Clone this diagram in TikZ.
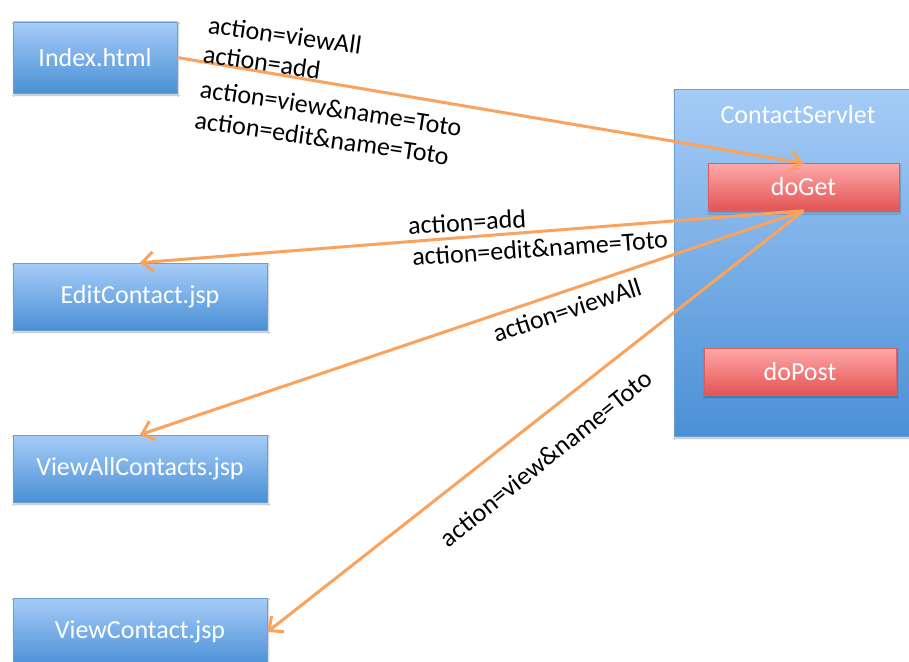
\documentclass[tikz,border=0pt]{standalone}
\usepackage{fontspec}
\setmainfont{Carlito}
\usetikzlibrary{arrows.meta,shadows.blur}
\definecolor{bluetop}{HTML}{A6CCF7}
\definecolor{bluebot}{HTML}{4A90D6}
\definecolor{blueline}{HTML}{6A9ED6}
\definecolor{redtop}{HTML}{FFA8A8}
\definecolor{redbot}{HTML}{E35454}
\definecolor{redline}{HTML}{D86060}
\definecolor{arrowc}{HTML}{F9A35E}
\tikzset{
  boxshadow/.style={blur shadow={shadow xshift=1pt,shadow yshift=-2pt,shadow blur steps=4,shadow opacity=30}},
  bluebox/.style={rectangle, top color=bluetop, bottom color=bluebot, draw=blueline, line width=0.6pt,
    text=white, font=\fontsize{26}{30}\selectfont, inner sep=0pt, boxshadow},
  redbox/.style={rectangle, top color=redtop, bottom color=redbot, draw=redline, line width=0.6pt,
    text=white, font=\fontsize{26}{30}\selectfont, inner sep=0pt, boxshadow},
  lbl/.style={font=\fontsize{26}{30}\selectfont, text=black, inner sep=0pt},
  arr/.style={draw=arrowc, line width=3pt, -{Straight Barb[length=11pt,width=20pt,line width=3pt]}}
}
\begin{document}
\begin{tikzpicture}[x=1pt,y=-1pt]
\useasboundingbox (0,0) rectangle (909,661);
\clip (0,0) rectangle (909,661);
\fill[white] (0,0) rectangle (909,661);
% servlet container
\node[bluebox, minimum width=271pt, minimum height=347pt] (serv) at (809.5,262.5) {};
\node[text=white, font=\fontsize{26}{30}\selectfont, inner sep=0pt] (servt) at (798,115) {ContactServlet};
\node[redbox, minimum width=191pt, minimum height=47pt] (doget) at (803.5,187) {doGet};
\node[redbox, minimum width=192pt, minimum height=47pt] (dopost) at (800,371.5) {doPost};
% pages
\node[bluebox, minimum width=164pt, minimum height=71pt] (idx) at (95,57.5) {Index.html};
\node[bluebox, minimum width=254pt, minimum height=67pt] (edit) at (140,296.5) {EditContact.jsp};
\node[bluebox, minimum width=254pt, minimum height=67pt] (vall) at (140,468.5) {ViewAllContacts.jsp};
\node[bluebox, minimum width=254pt, minimum height=68pt] (vc) at (140,632) {ViewContact.jsp};
% connectors
\draw[arr] (idx.east) -- (doget.north);
\draw[arr] (doget.south) -- (edit.north);
\draw[arr] (doget.south) -- (vall.north);
\draw[arr] (doget.south) -- (vc.east);
% labels
\node[lbl, rotate=-8] (l1) at (285,35) {action=viewAll};
\node[lbl, rotate=-8] (l2) at (262,62) {action=add};
\node[lbl, rotate=-8.5] (l3) at (331,108) {action=view\&name=Toto};
\node[lbl, rotate=-8.2] (l4) at (322,138) {action=edit\&name=Toto};
\node[lbl, rotate=3.5] (l5) at (467,222) {action=add};
\node[lbl, rotate=4] (l6) at (540,248) {action=edit\&name=Toto};
\node[lbl, rotate=18] (l7) at (567,310) {action=viewAll};
\node[lbl, rotate=39] (l8) at (546,458) {action=view\&name=Toto};
\end{tikzpicture}
\end{document}
